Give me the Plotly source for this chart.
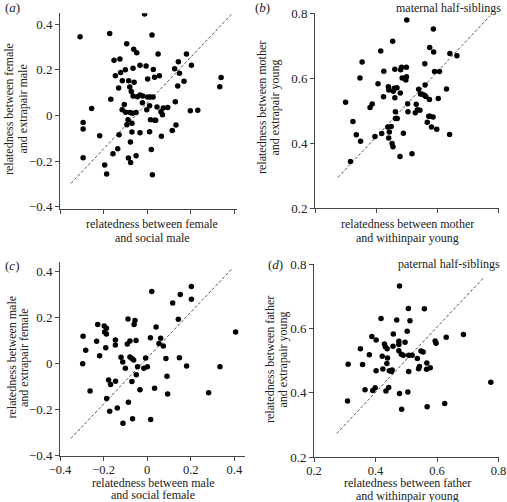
import plotly.graph_objects as go

# ---------------- data ----------------
# (a) female vs social male (x) / extrapair male (y)
a_x = [-0.012, -0.308, -0.172, 0.022, -0.094, -0.062, -0.048, 0.050, 0.180, -0.152,
       -0.125, 0.143, -0.033, -0.005, -0.065, -0.100, 0.028, 0.126, 0.203, -0.122,
       0.148, -0.146, 0.034, 0.056, 0.002, -0.114, -0.085, -0.060, 0.169, -0.080,
       -0.131, 0.140, -0.073, 0.339, 0.333, -0.167, -0.065, -0.045, -0.033, -0.020,
       0.002, 0.013, 0.027, -0.105, -0.022, 0.129, -0.255, 0.011, 0.045, 0.074,
       0.094, -0.115, -0.099, -0.079, -0.068, -0.051, -0.002, 0.063, 0.070, 0.198,
       0.232, -0.294, -0.294, -0.088, -0.070, -0.093, 0.015, 0.034, 0.039, 0.132,
       0.115, 0.065, -0.070, -0.033, 0.011, -0.129, -0.218, -0.077, 0.019, -0.135,
       -0.157, -0.294, -0.086, -0.051, -0.076, -0.195, -0.186, 0.024]
a_y = [0.444, 0.344, 0.359, 0.352, 0.314, 0.290, 0.274, 0.269, 0.269, 0.241,
       0.247, 0.235, 0.220, 0.216, 0.206, 0.200, 0.201, 0.204, 0.219, 0.188,
       0.184, 0.174, 0.167, 0.174, 0.159, 0.152, 0.152, 0.145, 0.149, 0.124,
       0.120, 0.129, 0.105, 0.166, 0.125, 0.070, 0.085, 0.082, 0.089, 0.085,
       0.080, 0.080, 0.080, 0.048, 0.055, 0.060, 0.030, 0.042, 0.037, 0.032,
       0.034, 0.025, 0.014, 0.012, 0.009, 0.012, 0.025, 0.016, 0.003, 0.020,
       0.022, -0.031, -0.060, -0.019, -0.035, -0.041, -0.019, -0.021, -0.021, -0.042,
       -0.066, -0.091, -0.073, -0.076, -0.072, -0.085, -0.089, -0.117, -0.150, -0.146,
       -0.168, -0.186, -0.187, -0.177, -0.206, -0.218, -0.257, -0.260]

# (b) maternal half-siblings
b_x = [0.500, 0.587, 0.454, 0.415, 0.575, 0.588, 0.354, 0.559, 0.641, 0.664,
       0.425, 0.461, 0.483, 0.499, 0.480, 0.591, 0.607, 0.347, 0.485, 0.499,
       0.497, 0.406, 0.440, 0.441, 0.459, 0.468, 0.456, 0.479, 0.424, 0.461,
       0.560, 0.539, 0.630, 0.545, 0.551, 0.558, 0.562, 0.574, 0.603,
       0.300, 0.387, 0.380, 0.503, 0.531, 0.463, 0.504, 0.528, 0.535, 0.543,
       0.463, 0.469, 0.324, 0.572, 0.576, 0.586, 0.567, 0.581, 0.598, 0.640,
       0.438, 0.449, 0.443, 0.418, 0.396, 0.489, 0.335, 0.349, 0.441, 0.452,
       0.455, 0.517, 0.478, 0.316]
b_y = [0.779, 0.752, 0.714, 0.684, 0.695, 0.681, 0.650, 0.645, 0.676, 0.669,
       0.622, 0.628, 0.634, 0.634, 0.626, 0.621, 0.621, 0.601, 0.601, 0.605,
       0.595, 0.583, 0.574, 0.564, 0.569, 0.571, 0.560, 0.555, 0.543, 0.540,
       0.579, 0.566, 0.567, 0.552, 0.551, 0.548, 0.544, 0.535, 0.538,
       0.526, 0.521, 0.510, 0.522, 0.520, 0.497, 0.497, 0.494, 0.503, 0.502,
       0.476, 0.476, 0.467, 0.483, 0.483, 0.481, 0.465, 0.450, 0.443, 0.427,
       0.450, 0.452, 0.435, 0.430, 0.421, 0.431, 0.426, 0.406, 0.416, 0.399,
       0.389, 0.368, 0.359, 0.344]

# (c) male vs social female (x) / extrapair female (y)
c_x = [0.021, 0.203, 0.152, 0.203, 0.117, 0.406, 0.143, 0.041, -0.088, -0.056,
       -0.060, -0.227, -0.197, -0.187, -0.195, -0.187, -0.294, -0.232, -0.282, -0.190,
       -0.218, -0.146, -0.146, -0.091, -0.079, -0.051, 0.015, 0.062, 0.054, 0.074,
       -0.120, -0.112, -0.079, -0.070, -0.062, -0.007, -0.296, -0.100, -0.044, -0.015,
       0.001, -0.050, 0.086, 0.148, 0.181, 0.334, -0.177, -0.168, -0.145, -0.070,
       -0.033, 0.034, 0.091, 0.094, -0.262, -0.186, -0.086, -0.137, -0.172, -0.111,
       -0.067, 0.016, 0.282]
c_y = [0.313, 0.335, 0.301, 0.280, 0.264, 0.138, 0.193, 0.159, 0.194, 0.187,
       0.170, 0.170, 0.164, 0.154, 0.138, 0.129, 0.119, 0.097, 0.058, 0.069,
       0.034, 0.103, 0.081, 0.085, 0.098, 0.101, 0.113, 0.110, 0.088, 0.077,
       0.028, 0.007, 0.029, 0.022, 0.016, 0.025, 0.000, -0.020, -0.014, -0.020,
       -0.014, -0.048, 0.022, 0.026, -0.010, -0.014, -0.071, -0.091, -0.077, -0.078,
       -0.113, -0.107, -0.055, -0.132, -0.119, -0.151, -0.168, -0.193, -0.207, -0.259,
       -0.239, -0.243, -0.126]

# (d) paternal half-siblings
d_x = [0.478, 0.507, 0.559, 0.418, 0.469, 0.512, 0.503, 0.458, 0.388, 0.402,
       0.476, 0.496, 0.594, 0.597, 0.630, 0.686, 0.429, 0.432, 0.438, 0.457,
       0.476, 0.351, 0.476, 0.484, 0.490, 0.508, 0.519, 0.548, 0.555, 0.536,
       0.380, 0.422, 0.439, 0.437, 0.311, 0.358, 0.567, 0.543, 0.540, 0.566,
       0.578, 0.402, 0.424, 0.445, 0.452, 0.454, 0.508, 0.775, 0.366, 0.391,
       0.399, 0.434, 0.443, 0.478, 0.505, 0.309, 0.485, 0.568, 0.625]
d_y = [0.732, 0.662, 0.661, 0.631, 0.626, 0.624, 0.591, 0.583, 0.575, 0.564,
       0.560, 0.557, 0.561, 0.554, 0.573, 0.581, 0.552, 0.543, 0.537, 0.545,
       0.550, 0.537, 0.531, 0.520, 0.517, 0.517, 0.517, 0.530, 0.527, 0.507,
       0.518, 0.514, 0.508, 0.491, 0.489, 0.488, 0.493, 0.482, 0.475, 0.473,
       0.478, 0.469, 0.474, 0.469, 0.466, 0.471, 0.466, 0.433, 0.410, 0.407,
       0.416, 0.406, 0.417, 0.398, 0.403, 0.375, 0.349, 0.357, 0.367]

# equality (dashed) lines as drawn in the figure
a_line_x = [-0.35, 0.388]
a_line_y = [-0.298, 0.444]
b_line_x = [0.275, 0.772]
b_line_y = [0.295, 0.792]
c_line_x = [-0.35, 0.388]
c_line_y = [-0.325, 0.411]
d_line_x = [0.274, 0.752]
d_line_y = [0.274, 0.758]

ticks_signed = [-0.4, -0.2, 0, 0.2, 0.4]
ticks_pos = [0.2, 0.4, 0.6, 0.8]

# axis titles (two lines each)
a_xtitle = ["relatedness between female", "and social male"]
a_ytitle = ["relatedness between female", "and extrapair male"]
b_xtitle = ["relatedness between mother", "and withinpair young"]
b_ytitle = ["relatedness between mother", "and extrapair young"]
c_xtitle = ["relatedness between male", "and social female"]
c_ytitle = ["relatedness between male", "and extrapair female"]
d_xtitle = ["relatedness between father", "and withinpair young"]
d_ytitle = ["relatedness between father", "and extrapair young"]

# ---------------- figure ----------------
W, H = 507, 502
FONT = "Liberation Serif"
AXC = "#444444"
TXT = "#222222"

def px(x):
    return x / W

def py(y):
    return 1 - y / H

fig = go.Figure()

panels = [
    ("x", "y", a_x, a_y, a_line_x, a_line_y),
    ("x2", "y2", b_x, b_y, b_line_x, b_line_y),
    ("x3", "y3", c_x, c_y, c_line_x, c_line_y),
    ("x4", "y4", d_x, d_y, d_line_x, d_line_y),
]
for xa, ya, xs, ys, lx, ly in panels:
    fig.add_trace(go.Scatter(x=lx, y=ly, mode="lines", xaxis=xa, yaxis=ya,
                             line=dict(color="#555555", width=1, dash="3px,2px"),
                             hoverinfo="skip", showlegend=False))
    fig.add_trace(go.Scatter(x=xs, y=ys, mode="markers", xaxis=xa, yaxis=ya,
                             marker=dict(color="black", size=5.5),
                             showlegend=False))

def axis_common(fs=13):
    return dict(showline=True, linecolor=AXC, linewidth=1, ticks="outside",
                ticklen=4, tickcolor=AXC, tickwidth=1, showgrid=False,
                zeroline=False, automargin=False,
                tickfont=dict(family=FONT, size=fs, color=TXT))

fig.update_layout(
    width=W, height=H, autosize=False,
    margin=dict(l=0, r=0, t=0, b=0, pad=0),
    paper_bgcolor="white", plot_bgcolor="white",
    xaxis=dict(**axis_common(), domain=[px(60), px(237)], range=[-0.4, 0.412],
               tickvals=ticks_signed, showticklabels=False, anchor="y"),
    yaxis=dict(**axis_common(), domain=[py(209.3), py(13.3)], range=[-0.4115, 0.447],
               tickvals=ticks_signed, anchor="x"),
    xaxis2=dict(**axis_common(), domain=[px(315), px(498.5)], range=[0.2, 0.8],
                tickvals=ticks_pos, showticklabels=False, anchor="y2"),
    yaxis2=dict(**axis_common(), domain=[py(208.3), py(13.3)], range=[0.2, 0.8],
                tickvals=ticks_pos, anchor="x2"),
    xaxis3=dict(**axis_common(12.5), domain=[px(60), px(245)], range=[-0.4, 0.449],
                tickvals=ticks_signed, anchor="y3", ticklabelstandoff=-2),
    yaxis3=dict(**axis_common(), domain=[py(455.7), py(261.7)], range=[-0.4, 0.443],
                tickvals=ticks_signed, anchor="x3"),
    xaxis4=dict(**axis_common(12.5), domain=[px(314), px(498.5)], range=[0.2, 0.8],
                tickvals=ticks_pos, anchor="y4", ticklabelstandoff=-2),
    yaxis4=dict(**axis_common(), domain=[py(457.3), py(264)], range=[0.2, 0.8],
                tickvals=ticks_pos, anchor="x4"),
)

def note(text, x, y, angle=0, xanchor="center", size=12):
    fig.add_annotation(text=text, x=px(x), y=py(y), xref="paper", yref="paper",
                       showarrow=False, textangle=angle, xanchor=xanchor,
                       yanchor="middle", font=dict(family=FONT, size=size, color=TXT))

# panel letters
note("(<i>a</i>)", 3, 8, xanchor="left", size=13)
note("(<i>b</i>)", 253, 8, xanchor="left", size=13)
note("(<i>c</i>)", 3, 265, xanchor="left", size=13)
note("(<i>d</i>)", 266, 264, xanchor="left", size=13)

# panel notes
note("maternal half-siblings", 503, 8, xanchor="right")
note("paternal half-siblings", 502, 264, xanchor="right")

# x titles: (lines, centre x, first-line y, second-line y)
for lines, cx, y1, y2 in [(a_xtitle, 152, 224, 237.5),
                          (b_xtitle, 407, 224, 237.5),
                          (c_xtitle, 153, 482.5, 495),
                          (d_xtitle, 407, 483, 495.5)]:
    note(lines[0], cx, y1)
    note(lines[1], cx, y2)

# y titles: (lines, first-line x, second-line x, centre y)
for lines, x1, x2, cy in [(a_ytitle, 9, 22.5, 109),
                          (b_ytitle, 262, 274.5, 108),
                          (c_ytitle, 11, 23.5, 357.5),
                          (d_ytitle, 270, 282.5, 360)]:
    note(lines[0], x1, cy, angle=-90)
    note(lines[1], x2, cy, angle=-90)

fig.write_html(
    "out.html",
    config={"displayModeBar": False},
    post_script="document.body.style.margin='0';document.body.style.padding='0';"
                "document.body.style.overflow='hidden';",
)
